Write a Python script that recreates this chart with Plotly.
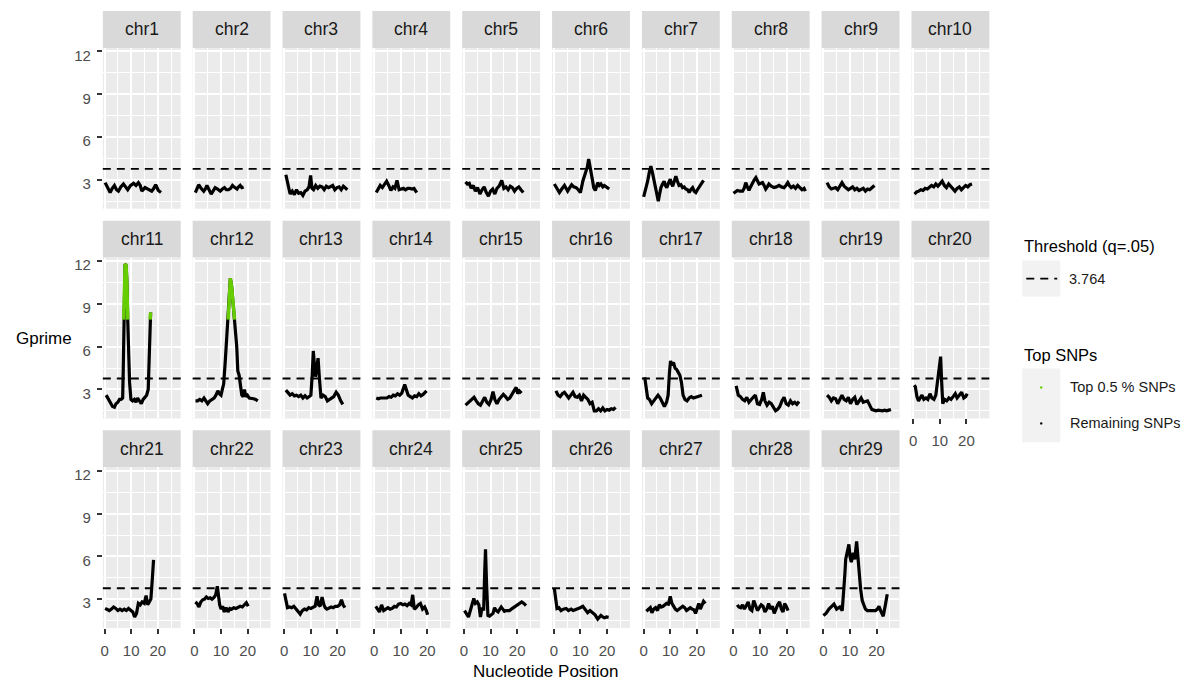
import plotly.graph_objects as go

W, H = 1187, 682

chromosomes = ["chr%d" % i for i in range(1, 30)]
threshold = 3.764
top_cutoff = 7.9
x_ticks = [0, 10, 20]
y_ticks = [3, 6, 9, 12]

chr1_pos = [0.2, 1.0, 2.1, 2.9, 3.7, 4.5, 5.2, 6.1, 7.1, 7.9, 8.7, 9.8, 10.9, 11.8, 12.7, 13.4, 14.0, 15.2, 16.5, 17.7, 18.5, 19.2, 20.2, 21.2]
chr1_g = [2.8, 2.5, 2.1, 2.4, 2.6, 2.3, 2.2, 2.5, 2.7, 2.5, 2.3, 2.6, 2.75, 2.6, 2.8, 2.6, 2.2, 2.45, 2.3, 2.2, 2.4, 2.65, 2.25, 2.1]
chr2_pos = [0.35, 1.0, 1.6, 2.5, 3.5, 4.1, 4.7, 5.5, 6.3, 7.0, 7.8, 8.7, 9.7, 10.5, 11.3, 12.0, 12.8, 13.6, 14.3, 15.2, 16.0, 16.6, 17.2, 17.8, 18.5]
chr2_g = [2.1, 2.45, 2.65, 2.4, 2.2, 2.35, 2.6, 2.3, 2.0, 2.2, 2.45, 2.35, 2.2, 2.35, 2.45, 2.3, 2.3, 2.4, 2.6, 2.45, 2.35, 2.5, 2.6, 2.45, 2.5]
chr3_pos = [0.6, 1.1, 1.6, 2.2, 3.0, 3.8, 4.6, 5.4, 6.2, 7.0, 7.8, 8.6, 9.3, 9.9, 10.4, 11.0, 11.8, 12.6, 13.4, 14.2, 15.0, 15.8, 16.6, 17.4, 18.2, 19.0, 19.8, 20.6, 21.4, 22.2, 23.0, 23.7]
chr3_g = [3.35, 2.9, 2.3, 2.0, 2.2, 1.95, 2.3, 2.05, 2.1, 1.9, 2.2, 2.3, 2.5, 3.3, 2.4, 2.3, 2.6, 2.4, 2.55, 2.5, 2.3, 2.55, 2.45, 2.5, 2.6, 2.3, 2.45, 2.5, 2.3, 2.55, 2.4, 2.3]
chr4_pos = [0.8, 1.5, 2.3, 3.1, 3.9, 4.7, 5.5, 6.3, 7.1, 7.8, 8.6, 9.4, 10.2, 11.0, 11.8, 12.6, 13.4, 14.2, 15.0, 16.0]
chr4_g = [2.1, 2.35, 2.6, 2.45, 2.65, 2.9, 2.6, 2.25, 2.5, 2.4, 2.95, 2.3, 2.35, 2.4, 2.3, 2.4, 2.4, 2.35, 2.4, 2.1]
chr5_pos = [0.6, 1.3, 2.0, 2.7, 3.5, 4.3, 5.1, 6.0, 6.8, 7.6, 8.4, 9.2, 10.0, 10.8, 11.6, 12.4, 13.2, 14.2, 15.0, 15.8, 16.6, 17.4, 18.2, 19.0, 19.8, 20.6, 21.4, 22.3]
chr5_g = [2.85, 2.7, 2.75, 2.4, 2.6, 2.2, 2.45, 2.0, 2.3, 2.5, 2.1, 1.85, 2.2, 2.35, 2.0, 2.4, 2.55, 2.95, 2.4, 2.5, 2.3, 2.55, 2.45, 2.2, 2.4, 2.5, 2.3, 2.1]
chr6_pos = [0.2, 1.1, 2.1, 3.0, 4.0, 4.6, 5.2, 6.0, 6.7, 7.5, 8.4, 9.2, 10.0, 10.9, 11.5, 12.1, 12.6, 13.1, 13.6, 14.0, 14.5, 15.0, 15.6, 16.5, 17.1, 17.7, 18.4, 19.0, 19.9, 20.8]
chr6_g = [2.7, 2.4, 2.1, 2.35, 2.6, 2.4, 2.2, 2.45, 2.65, 2.5, 2.45, 2.3, 2.1, 2.9, 3.3, 3.5, 3.9, 4.45, 4.0, 3.6, 3.0, 2.45, 2.25, 2.8, 2.6, 2.7, 2.5, 2.6, 2.45, 2.35]
chr7_pos = [0.0, 0.8, 1.5, 2.1, 2.7, 3.3, 4.0, 4.6, 5.5, 6.0, 6.5, 7.1, 7.7, 8.2, 8.7, 9.4, 10.0, 10.5, 10.9, 11.5, 12.1, 12.7, 13.3, 14.0, 14.6, 15.2, 15.8, 16.5, 17.1, 17.7, 18.4, 19.0, 19.6, 20.2, 20.8, 21.7, 22.5]
chr7_g = [1.8, 2.3, 2.9, 3.5, 3.95, 3.5, 2.9, 2.2, 1.5, 2.0, 2.45, 2.7, 2.9, 2.6, 2.45, 2.8, 3.05, 2.7, 2.55, 2.9, 3.25, 2.9, 2.6, 2.65, 2.45, 2.5, 2.35, 2.3, 2.1, 2.3, 2.45, 2.2, 2.1, 2.3, 2.45, 2.7, 2.95]
chr8_pos = [0.0, 0.8, 1.5, 2.4, 3.4, 4.0, 4.6, 5.2, 5.8, 6.4, 7.1, 7.8, 8.4, 9.0, 9.6, 10.3, 10.9, 11.5, 12.1, 12.7, 13.3, 14.2, 15.2, 16.1, 17.1, 18.0, 19.0, 19.7, 20.4, 21.0, 21.7, 22.5, 23.3, 24.1, 24.9, 25.7, 26.5, 27.0]
chr8_g = [2.05, 2.15, 2.25, 2.2, 2.2, 2.4, 2.8, 2.5, 2.25, 2.5, 2.8, 3.0, 3.15, 2.9, 2.7, 2.75, 2.8, 2.6, 2.35, 2.5, 2.7, 2.55, 2.45, 2.5, 2.6, 2.5, 2.45, 2.6, 2.8, 2.6, 2.45, 2.55, 2.4, 2.6, 2.45, 2.3, 2.4, 2.2]
chr9_pos = [1.4, 2.2, 3.0, 3.8, 4.6, 5.4, 6.2, 7.0, 7.8, 8.6, 9.4, 10.2, 11.0, 11.8, 12.6, 13.4, 14.2, 15.0, 15.8, 16.6, 17.4, 18.2, 19.2]
chr9_g = [2.8, 2.5, 2.35, 2.4, 2.45, 2.3, 2.6, 2.8, 2.55, 2.4, 2.3, 2.4, 2.5, 2.3, 2.4, 2.25, 2.35, 2.4, 2.2, 2.35, 2.3, 2.45, 2.6]
chr10_pos = [0.5, 1.3, 2.1, 2.9, 3.7, 4.5, 5.3, 6.1, 6.9, 7.7, 8.5, 9.3, 10.1, 10.9, 11.7, 12.5, 13.3, 14.1, 14.9, 15.7, 16.5, 17.3, 18.1, 18.9, 19.7, 20.5, 21.3, 22.1]
chr10_g = [2.0, 2.15, 2.2, 2.3, 2.25, 2.4, 2.35, 2.5, 2.6, 2.5, 2.7, 2.55, 2.75, 2.9, 2.6, 2.45, 2.7, 2.55, 2.35, 2.2, 2.4, 2.5, 2.3, 2.45, 2.6, 2.5, 2.65, 2.7]
chr11_pos = [0.6, 1.2, 1.8, 2.4, 3.0, 3.7, 4.3, 5.0, 5.6, 6.2, 6.8, 7.0, 7.1, 7.15, 7.2, 7.4, 7.7, 8.1, 8.4, 8.7, 9.0, 9.4, 9.9, 10.5, 11.2, 11.8, 12.4, 13.0, 13.8, 14.5, 15.2, 15.8, 16.4, 16.8, 17.1, 17.3]
chr11_g = [2.6, 2.4, 2.2, 2.0, 1.8, 1.75, 2.0, 2.1, 2.3, 2.3, 2.4, 4.2, 5.9, 7.0, 7.9, 10.5, 11.8, 11.7, 10.5, 7.9, 6.0, 3.5, 2.3, 2.2, 2.3, 2.1, 2.4, 2.2, 2.0, 2.3, 2.5, 2.6, 3.0, 5.5, 7.9, 8.4]
chr12_pos = [0.4, 1.2, 2.0, 2.8, 3.6, 4.4, 5.0, 5.8, 6.6, 7.4, 8.1, 8.8, 9.4, 10.0, 10.5, 11.0, 11.6, 12.2, 12.7, 13.1, 13.5, 14.0, 14.6, 15.1, 15.5, 15.9, 16.3, 16.8, 17.3, 17.8, 18.3, 18.8, 19.3, 19.9, 20.6, 21.4, 22.2, 23.0, 23.8]
chr12_g = [2.2, 2.2, 2.3, 2.2, 2.4, 2.1, 2.0, 2.2, 2.3, 2.4, 2.6, 2.9, 2.7, 2.6, 3.0, 3.4, 5.0, 7.0, 7.9, 9.5, 10.8, 10.2, 9.0, 7.9, 7.3, 6.0, 4.3, 4.0, 3.3, 2.6, 2.5, 3.0, 2.5, 2.6, 2.4, 2.4, 2.35, 2.3, 2.2]
chr13_pos = [0.6, 1.4, 2.2, 3.0, 3.8, 4.6, 5.4, 6.2, 7.0, 7.8, 8.6, 9.4, 10.0, 10.5, 10.9, 11.3, 11.7, 12.2, 12.7, 13.2, 13.8, 14.6, 15.4, 16.2, 17.0, 17.8, 18.6, 19.5, 20.3, 21.2, 22.0]
chr13_g = [2.95, 2.75, 2.6, 2.7, 2.55, 2.6, 2.5, 2.6, 2.4, 2.55, 2.4, 2.5, 2.6, 4.0, 5.7, 4.8, 3.9, 4.5, 5.2, 3.8, 2.4, 2.6, 2.5, 2.2, 2.3, 2.35, 2.5, 2.8, 2.6, 2.2, 1.95]
chr14_pos = [0.8, 1.6, 2.4, 3.2, 4.0, 4.8, 5.6, 6.4, 7.2, 8.0, 8.8, 9.6, 10.4, 11.0, 11.5, 12.1, 12.8, 13.6, 14.4, 15.2, 16.0, 16.8, 17.6, 18.4, 19.2, 19.7]
chr14_g = [2.4, 2.35, 2.4, 2.4, 2.45, 2.4, 2.5, 2.45, 2.6, 2.55, 2.7, 2.6, 2.75, 3.2, 3.35, 3.0, 2.6, 2.5, 2.4, 2.55, 2.5, 2.7, 2.55, 2.65, 2.8, 2.9]
chr15_pos = [0.6, 1.4, 2.2, 3.0, 3.8, 4.6, 5.4, 6.2, 7.0, 7.8, 8.6, 9.4, 10.2, 10.9, 11.6, 12.4, 13.2, 14.0, 14.8, 15.6, 16.4, 17.2, 18.0, 18.8, 19.6, 20.2, 20.8, 21.6]
chr15_g = [1.9, 2.05, 2.2, 2.35, 2.45, 2.2, 2.0, 1.9, 2.2, 2.45, 2.1, 1.95, 2.3, 2.85, 2.3, 2.0, 2.3, 2.45, 2.65, 2.5, 2.3, 2.4, 2.7, 2.9, 3.15, 2.7, 2.9, 2.75]
chr16_pos = [0.8, 1.6, 2.4, 3.2, 4.0, 4.8, 5.6, 6.4, 7.2, 8.0, 8.8, 9.6, 10.4, 11.2, 12.0, 12.8, 13.6, 14.4, 15.2, 16.0, 16.8, 17.6, 18.4, 19.2, 20.0, 20.8, 21.6, 22.4, 23.2]
chr16_g = [2.9, 2.6, 2.5, 2.7, 2.8, 2.6, 2.4, 2.6, 2.8, 2.5, 2.45, 2.6, 2.2, 2.6, 2.45, 2.3, 2.0, 2.1, 1.5, 1.5, 1.65, 1.5, 1.7, 1.5, 1.6, 1.55, 1.65, 1.6, 1.75]
chr17_pos = [0.4, 0.9, 1.5, 2.2, 3.0, 3.8, 4.6, 5.4, 6.2, 7.0, 7.8, 8.6, 9.2, 9.7, 10.1, 10.6, 11.2, 11.8, 12.4, 13.0, 13.6, 14.2, 14.8, 15.5, 16.3, 17.1, 17.9, 18.7, 19.5, 20.3, 21.1, 21.9]
chr17_g = [3.85, 3.0, 2.4, 2.3, 2.0, 2.2, 2.4, 2.6, 2.4, 2.1, 1.8, 2.1, 2.6, 4.2, 5.0, 4.7, 4.9, 4.5, 4.4, 4.2, 4.0, 3.5, 2.6, 2.3, 2.2, 2.4, 2.5, 2.4, 2.45, 2.5, 2.6, 2.6]
chr18_pos = [1.0, 1.8, 2.6, 3.4, 4.2, 5.0, 5.8, 6.6, 7.4, 8.2, 9.0, 9.8, 10.6, 11.2, 11.8, 12.6, 13.4, 14.2, 15.0, 15.8, 16.6, 17.4, 18.2, 19.0, 19.8, 20.6, 21.4, 22.2, 23.0, 23.8, 24.6]
chr18_g = [3.25, 2.6, 2.5, 2.3, 2.2, 2.45, 2.1, 2.3, 2.45, 2.6, 2.0, 1.95, 2.3, 2.8, 2.2, 1.9, 2.1, 2.0, 1.7, 1.5, 1.6, 1.8, 2.2, 2.45, 2.0, 1.9, 2.2, 2.0, 2.1, 1.95, 2.15]
chr19_pos = [1.4, 2.2, 3.0, 3.8, 4.6, 5.4, 6.2, 7.0, 7.8, 8.6, 9.4, 10.2, 11.0, 11.8, 12.6, 13.4, 14.2, 15.0, 15.8, 16.6, 17.4, 18.2, 19.0, 19.8, 20.6, 21.4, 22.2, 23.0, 23.8, 24.6, 25.4]
chr19_g = [2.6, 2.45, 2.2, 2.4, 2.35, 2.0, 2.3, 2.6, 2.3, 2.2, 2.45, 2.0, 2.3, 2.45, 1.95, 2.15, 2.4, 2.1, 2.15, 2.2, 1.9, 1.6, 1.55, 1.5, 1.55, 1.5, 1.5, 1.55, 1.5, 1.55, 1.6]
chr20_pos = [0.35, 0.8, 1.4, 2.0, 2.6, 3.3, 4.0, 4.8, 5.5, 6.3, 7.0, 7.8, 8.5, 9.2, 9.8, 10.3, 10.7, 11.1, 11.8, 12.6, 13.4, 14.2, 15.0, 15.8, 16.5, 17.3, 18.2, 19.0, 19.7, 20.3]
chr20_g = [3.3, 3.2, 2.5, 2.2, 2.4, 2.6, 2.3, 2.4, 2.3, 2.7, 2.4, 2.3, 2.6, 3.5, 4.6, 5.3, 3.5, 2.0, 2.3, 2.2, 2.4, 2.3, 2.5, 2.7, 2.4, 2.6, 2.8, 2.4, 2.5, 2.7]
chr21_pos = [0.2, 1.0, 1.8, 2.6, 3.4, 4.2, 5.0, 5.8, 6.6, 7.4, 8.2, 9.0, 9.8, 10.6, 11.3, 12.0, 12.7, 13.4, 14.1, 14.9, 15.6, 16.2, 16.8, 17.4, 17.9, 18.4]
chr21_g = [2.35, 2.3, 2.2, 2.3, 2.45, 2.35, 2.2, 2.3, 2.2, 2.3, 2.2, 2.35, 2.2, 2.1, 1.75, 2.0, 2.7, 2.6, 2.8, 2.7, 3.25, 2.6, 2.8, 3.0, 4.3, 5.75]
chr22_pos = [0.35, 1.0, 1.7, 2.4, 3.1, 3.8, 4.5, 5.2, 5.9, 6.6, 7.3, 8.0, 8.6, 9.0, 9.5, 10.0, 10.6, 11.2, 11.9, 12.6, 13.3, 14.0, 14.8, 15.6, 16.4, 17.2, 18.0, 18.8, 19.5, 20.2]
chr22_g = [2.8, 2.7, 2.45, 2.8, 2.95, 3.0, 3.15, 3.05, 3.1, 3.0, 3.1, 3.3, 3.9, 3.3, 2.6, 2.3, 2.5, 2.1, 2.4, 2.1, 2.35, 2.3, 2.4, 2.35, 2.4, 2.5, 2.45, 2.6, 2.75, 2.5]
chr23_pos = [0.1, 0.6, 1.2, 2.0, 2.8, 3.6, 4.4, 5.2, 6.0, 6.8, 7.6, 8.4, 9.2, 10.0, 10.8, 11.6, 12.3, 12.9, 13.5, 14.2, 14.9, 15.4, 16.0, 16.8, 17.6, 18.4, 19.2, 20.0, 20.8, 21.5, 22.1, 22.8]
chr23_g = [3.4, 2.9, 2.4, 2.45, 2.4, 2.5, 2.3, 2.1, 1.95, 2.2, 2.3, 2.25, 2.4, 2.35, 2.4, 2.5, 3.2, 2.6, 2.5, 3.15, 2.6, 2.4, 2.3, 2.35, 2.45, 2.4, 2.5, 2.5, 2.6, 2.95, 2.6, 2.4]
chr24_pos = [0.6, 1.3, 2.0, 2.8, 3.6, 4.4, 5.2, 6.0, 6.8, 7.6, 8.4, 9.2, 10.0, 10.8, 11.6, 12.4, 13.2, 13.9, 14.5, 15.1, 15.8, 16.6, 17.4, 18.2, 19.0, 19.6, 20.1]
chr24_g = [2.5, 2.3, 2.1, 2.6, 2.2, 2.3, 2.4, 2.3, 2.35, 2.5, 2.45, 2.65, 2.7, 2.6, 2.65, 2.55, 2.7, 2.6, 3.3, 2.3, 2.4, 2.6, 2.7, 2.3, 2.45, 2.2, 1.9]
chr25_pos = [0.2, 0.9, 1.7, 2.4, 3.1, 3.7, 4.3, 5.0, 5.6, 6.2, 6.8, 7.4, 7.8, 8.1, 8.5, 9.0, 9.6, 10.3, 10.9, 11.5, 12.1, 12.8, 13.4, 14.0, 14.6, 15.2, 15.9, 16.5, 17.1, 17.8, 18.5, 19.2, 19.6, 20.3, 21.0, 21.7, 22.5, 23.3]
chr25_g = [2.2, 2.0, 1.75, 2.2, 2.7, 3.05, 2.7, 2.8, 2.6, 1.75, 2.4, 2.2, 5.0, 6.5, 4.0, 1.85, 1.8, 1.9, 2.0, 2.4, 2.2, 2.1, 2.3, 2.45, 2.3, 2.15, 2.2, 2.2, 2.2, 2.3, 2.4, 2.45, 2.5, 2.6, 2.7, 2.8, 2.7, 2.55]
chr26_pos = [0.2, 0.6, 1.2, 1.9, 2.7, 3.6, 4.6, 5.5, 6.5, 7.3, 8.1, 9.0, 9.9, 10.9, 11.8, 12.7, 13.6, 14.6, 15.5, 16.5, 17.1, 17.7, 18.4, 19.0, 19.8, 20.6]
chr26_g = [3.75, 3.0, 2.35, 2.4, 2.2, 2.3, 2.35, 2.2, 2.3, 2.2, 2.25, 2.3, 2.4, 2.5, 2.3, 2.05, 2.2, 2.05, 1.9, 1.6, 1.75, 1.85, 1.75, 1.7, 1.75, 1.72]
chr27_pos = [1.0, 1.8, 2.5, 3.1, 3.8, 4.5, 5.2, 5.9, 6.6, 7.3, 8.0, 8.6, 9.3, 10.0, 10.6, 11.2, 11.9, 12.6, 13.3, 14.0, 14.7, 15.4, 16.1, 16.8, 17.5, 18.2, 18.9, 19.5, 20.1, 20.7, 21.3, 21.9, 22.5, 23.2]
chr27_g = [2.15, 2.3, 2.4, 2.05, 2.3, 2.4, 2.2, 2.6, 2.45, 2.5, 2.6, 2.7, 2.65, 3.2, 2.7, 2.5, 2.3, 2.2, 2.3, 2.35, 2.5, 2.4, 2.2, 2.3, 2.4, 2.3, 2.25, 2.0, 2.3, 2.7, 2.3, 2.6, 2.85, 2.7]
chr28_pos = [1.4, 2.0, 2.7, 3.4, 4.1, 4.8, 5.5, 6.2, 6.9, 7.6, 8.3, 9.0, 9.7, 10.4, 11.1, 11.8, 12.5, 13.2, 13.9, 14.6, 15.3, 16.0, 16.6, 17.3, 18.0, 18.6, 19.2, 19.8, 20.5]
chr28_g = [2.6, 2.45, 2.4, 2.6, 2.3, 2.5, 2.8, 2.3, 2.2, 2.9, 2.5, 2.2, 2.4, 2.6, 2.5, 2.1, 2.3, 2.7, 2.3, 2.5, 2.0, 2.4, 2.6, 2.8, 2.3, 2.1, 2.7, 2.5, 2.2]
chr29_pos = [0.0, 1.0, 2.1, 3.0, 4.0, 5.0, 5.6, 6.2, 7.1, 7.7, 8.1, 8.4, 9.0, 9.6, 10.0, 10.5, 11.2, 11.8, 12.5, 13.1, 13.5, 14.0, 14.6, 15.2, 15.8, 16.5, 17.1, 17.8, 18.4, 19.0, 19.6, 20.3, 20.9, 21.5, 22.0, 22.5, 23.3, 24.0]
chr29_g = [1.85, 2.0, 2.3, 2.45, 2.65, 2.3, 2.35, 2.45, 2.2, 3.5, 4.8, 5.8, 6.4, 6.85, 6.0, 5.6, 6.25, 5.8, 7.05, 5.6, 4.6, 3.7, 2.9, 2.6, 2.3, 2.2, 2.2, 2.25, 2.25, 2.2, 2.2, 2.3, 2.5, 2.2, 2.0, 1.8, 2.6, 3.35]

positions = [chr1_pos, chr2_pos, chr3_pos, chr4_pos, chr5_pos, chr6_pos, chr7_pos, chr8_pos, chr9_pos, chr10_pos,
             chr11_pos, chr12_pos, chr13_pos, chr14_pos, chr15_pos, chr16_pos, chr17_pos, chr18_pos, chr19_pos, chr20_pos,
             chr21_pos, chr22_pos, chr23_pos, chr24_pos, chr25_pos, chr26_pos, chr27_pos, chr28_pos, chr29_pos]
gprimes = [chr1_g, chr2_g, chr3_g, chr4_g, chr5_g, chr6_g, chr7_g, chr8_g, chr9_g, chr10_g,
           chr11_g, chr12_g, chr13_g, chr14_g, chr15_g, chr16_g, chr17_g, chr18_g, chr19_g, chr20_g,
           chr21_g, chr22_g, chr23_g, chr24_g, chr25_g, chr26_g, chr27_g, chr28_g, chr29_g]

FONT = "Liberation Sans, Arial, Helvetica, sans-serif"
GREEN = "#66CD00"
PANEL_LEFT0, PITCH_X, PANEL_W = 101, 90, 78
STRIP_TOPS = [10, 220, 430]
STRIP_H, PANEL_H = 37, 161
X_RANGE = [-0.65, 28.6]
Y_RANGE = [0.97, 12.25]


def px(x):
    return x / W


def py(y):
    return 1 - y / H


fig = go.Figure()
layout = {}
shapes = []
annotations = []

for k, name in enumerate(chromosomes):
    r, c = divmod(k, 10)
    left = PANEL_LEFT0 + PITCH_X * c
    right = left + PANEL_W
    st = STRIP_TOPS[r]
    pt = st + STRIP_H
    pb = pt + PANEL_H
    n = k + 1
    xa = "x" if n == 1 else "x%d" % n
    ya = "y" if n == 1 else "y%d" % n
    show_x = (r == 2) or (r == 1 and c == 9)
    show_y = (c == 0)

    layout["xaxis" if n == 1 else "xaxis%d" % n] = dict(
        domain=[px(left), px(right)], range=X_RANGE, anchor=ya,
        tickmode="array", tickvals=x_ticks, ticktext=[str(v) for v in x_ticks],
        showgrid=True, gridcolor="white", gridwidth=1.5,
        minor=dict(dtick=5, tick0=0, showgrid=True, gridcolor="white", gridwidth=0.8, ticks=""),
        zeroline=False, showline=False,
        ticks="outside" if show_x else "", ticklen=5, tickwidth=1.6, tickcolor="#333333",
        ticklabelstandoff=4,
        showticklabels=show_x, tickfont=dict(family=FONT, size=15, color="#4D4D4D"),
        fixedrange=True,
    )
    layout["yaxis" if n == 1 else "yaxis%d" % n] = dict(
        domain=[py(pb), py(pt)], range=Y_RANGE, anchor=xa,
        tickmode="array", tickvals=y_ticks, ticktext=[str(v) for v in y_ticks],
        showgrid=True, gridcolor="white", gridwidth=1.5,
        minor=dict(dtick=1.5, tick0=0, showgrid=True, gridcolor="white", gridwidth=0.8, ticks=""),
        zeroline=False, showline=False,
        ticks="outside" if show_y else "", ticklen=5, tickwidth=1.6, tickcolor="#333333",
        ticklabelstandoff=3, ticklabelshift=4,
        showticklabels=show_y, tickfont=dict(family=FONT, size=15, color="#4D4D4D"),
        fixedrange=True,
    )

    xs = positions[k]
    gs = gprimes[k]
    fig.add_trace(go.Scatter(x=xs, y=gs, mode="lines", xaxis=xa, yaxis=ya,
                             line=dict(color="black", width=3.2), showlegend=False,
                             hoverinfo="skip"))
    green = [g if g >= top_cutoff else None for g in gs]
    if any(v is not None for v in green):
        fig.add_trace(go.Scatter(x=xs, y=green, mode="lines", xaxis=xa, yaxis=ya,
                                 line=dict(color=GREEN, width=3.4), showlegend=False,
                                 connectgaps=False, hoverinfo="skip"))

    # threshold line
    shapes.append(dict(type="line", xref="%s domain" % xa, yref=ya, x0=0, x1=1,
                       y0=threshold, y1=threshold,
                       line=dict(color="black", width=1.9, dash="8px,6px")))
    # strip
    shapes.append(dict(type="rect", xref="paper", yref="paper",
                       x0=px(left), x1=px(right), y0=py(pt), y1=py(st),
                       fillcolor="#D9D9D9", line=dict(width=0), layer="below"))
    annotations.append(dict(text=name, xref="paper", yref="paper",
                            x=px((left + right) / 2), y=py(st + STRIP_H / 2),
                            xanchor="center", yanchor="middle", showarrow=False,
                            font=dict(family=FONT, size=17.5, color="#1A1A1A")))

# axis titles
annotations.append(dict(text="Nucleotide Position", xref="paper", yref="paper",
                        x=px(545), y=py(671), xanchor="center", yanchor="middle",
                        showarrow=False, font=dict(family=FONT, size=17, color="black")))
annotations.append(dict(text="Gprime", xref="paper", yref="paper",
                        x=px(12), y=py(338), xanchor="left", yanchor="middle",
                        showarrow=False, font=dict(family=FONT, size=17, color="black")))

# legend: threshold
annotations.append(dict(text="Threshold (q=.05)", xref="paper", yref="paper",
                        x=px(1022), y=py(245), xanchor="left", yanchor="middle",
                        showarrow=False, font=dict(family=FONT, size=16.5, color="black")))
shapes.append(dict(type="rect", xref="paper", yref="paper",
                   x0=px(1022), x1=px(1060), y0=py(296), y1=py(260),
                   fillcolor="#F2F2F2", line=dict(width=0)))
shapes.append(dict(type="line", xref="paper", yref="paper",
                   x0=px(1026), x1=px(1057), y0=py(278), y1=py(278),
                   line=dict(color="black", width=1.9, dash="8px,6px")))
annotations.append(dict(text="%.3f" % threshold, xref="paper", yref="paper",
                        x=px(1067), y=py(278), xanchor="left", yanchor="middle",
                        showarrow=False, font=dict(family=FONT, size=14.5, color="#1A1A1A")))

# legend: top SNPs
annotations.append(dict(text="Top SNPs", xref="paper", yref="paper",
                        x=px(1022), y=py(355), xanchor="left", yanchor="middle",
                        showarrow=False, font=dict(family=FONT, size=16.5, color="black")))
shapes.append(dict(type="rect", xref="paper", yref="paper",
                   x0=px(1022), x1=px(1060), y0=py(442), y1=py(368),
                   fillcolor="#F2F2F2", line=dict(width=0)))
for yc, col, label in [(387, GREEN, "Top 0.5 % SNPs"), (423, "black", "Remaining SNPs")]:
    shapes.append(dict(type="circle", xref="paper", yref="paper",
                       x0=px(1039.8), x1=px(1042.2), y0=py(yc + 1.2), y1=py(yc - 1.2),
                       fillcolor=col, line=dict(width=0)))
    annotations.append(dict(text=label, xref="paper", yref="paper",
                            x=px(1068), y=py(yc), xanchor="left", yanchor="middle",
                            showarrow=False, font=dict(family=FONT, size=14.5, color="#1A1A1A")))

fig.update_layout(
    width=W, height=H, autosize=False,
    margin=dict(l=0, r=0, t=0, b=0),
    paper_bgcolor="white", plot_bgcolor="#EBEBEB",
    shapes=shapes, annotations=annotations, showlegend=False,
    font=dict(family=FONT),
    **layout,
)

fig.write_html("out.html", config={"displayModeBar": False},
               post_script="document.body.style.margin='0';document.body.style.overflow='hidden';")
